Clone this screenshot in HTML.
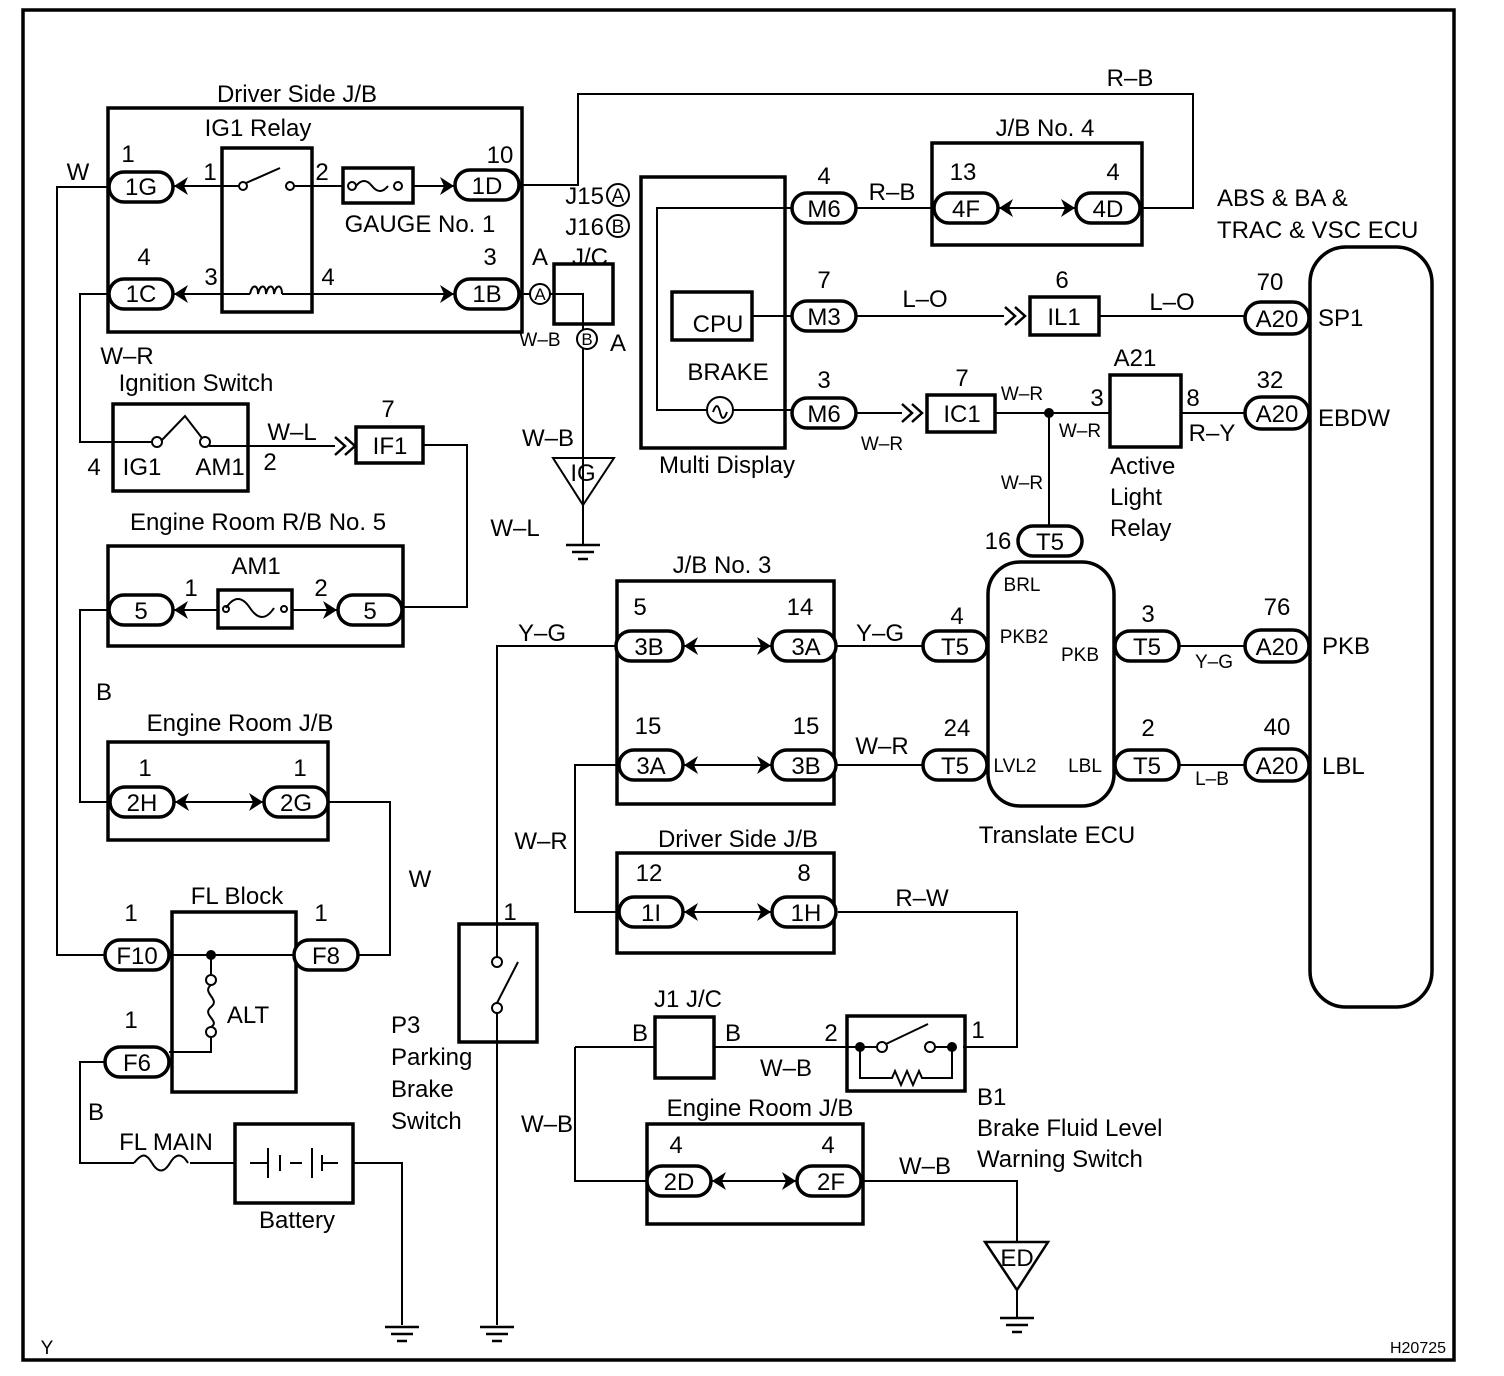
<!DOCTYPE html>
<html><head><meta charset="utf-8"><style>
html,body{margin:0;padding:0;background:#fff}
svg{display:block}
text{font-family:"Liberation Sans",Arial,sans-serif;fill:#000}
svg rect{stroke-width:3.5}
</style></head><body>
<svg width="1504" height="1376" viewBox="0 0 1504 1376" xmlns="http://www.w3.org/2000/svg">
<defs>
<path id="cr" d="M7,0 L-7,-9 L-3,0 L-7,9 Z" fill="#000"/>
<path id="cl" d="M-7,0 L7,-9 L3,0 L7,9 Z" fill="#000"/>
<g id="dbl" fill="none" stroke="#000" stroke-width="2.5"><path d="M-10,-9 L0,0 L-10,9 M0,-9 L10,0 L0,9"/></g>
<g id="gnd" stroke="#000" stroke-width="2.5"><line x1="-17" y1="0" x2="17" y2="0"/><line x1="-11" y1="7" x2="11" y2="7"/><line x1="-5" y1="14" x2="5" y2="14"/></g>
</defs>
<rect x="23" y="10" width="1431" height="1350" fill="none" stroke="#000" stroke-width="3"/>
<g fill="none" stroke="#000" stroke-width="2">
<rect x="108" y="108" width="414" height="224"/>
<rect x="222" y="148" width="90" height="164"/>
<rect x="343" y="168" width="70" height="35"/>
<path d="M356,186 q8,-10 16,0 q8,10 16,0" />
<circle cx="352" cy="186" r="4"/><circle cx="398" cy="186" r="4"/>
<circle cx="243" cy="186" r="4"/><circle cx="290" cy="186" r="4"/>
<line x1="246" y1="183" x2="280" y2="168"/>
<path d="M173,186 H239 M294,186 H343 M413,186 H455"/>
<path d="M173,294 H250 M282,294 H455"/>
<path d="M250,294 c2,-10 8,-10 8,0 c2,-10 8,-10 8,0 c2,-10 8,-10 8,0 c2,-10 8,-10 8,0"/>
<path d="M109,187 H57 V955 H106"/>
<path d="M109,294 H80 V442 H153"/>
<path d="M519,185 H578 V94 H1193 V208 H1140"/>
<path d="M519,294 H530 M550,294 H583 V330 M583,349 V510"/>
<circle cx="540" cy="294" r="10"/>
<circle cx="587" cy="339" r="10"/>
<rect x="554" y="264" width="59" height="60"/>
<path d="M553,458 H614 L583,505 Z"/>
<line x1="583" y1="505" x2="583" y2="545"/>
<rect x="113" y="404" width="135" height="87"/>
<circle cx="157" cy="442" r="5"/><circle cx="205" cy="442" r="5"/>
<path d="M161,441 L185,416 L202,438"/>
<path d="M209,446 H248 M248,446 H335"/>
<rect x="356" y="427" width="67" height="36"/>
<path d="M423,445 H467 V607 H402"/>
<rect x="108" y="546" width="295" height="100"/>
<rect x="218" y="590" width="74" height="38"/>
<path d="M226,608 c8,-12 16,-12 24,0 c8,12 16,12 24,0" />
<circle cx="226" cy="609" r="3"/><circle cx="284" cy="609" r="3"/>
<path d="M173,610 H218 M292,610 H338"/>
<path d="M109,610 H80 V802 H110"/>
<rect x="108" y="742" width="220" height="98"/>
<path d="M174,802 H264"/>
<path d="M328,802 H390 V955 H358"/>
<rect x="172" y="912" width="124" height="180"/>
<path d="M169,955 H294"/>
<path d="M211,955 V974 M211,1038 V1052 H169"/>
<circle cx="211" cy="980" r="5"/><circle cx="211" cy="1032" r="5"/>
<path d="M211,985 c-10,8 10,14 0,22 c-10,8 10,14 0,20"/>
<path d="M105,1062 H80 V1163 H134 M190,1163 H235"/>
<path d="M134,1163 c8,-10 12,-10 18,0 c6,10 12,10 18,0 c6,-10 12,-10 18,0"/>
<rect x="235" y="1124" width="118" height="79"/>
<path d="M250,1163 H268 M268,1148 V1178 M280,1155 V1171 M290,1163 H302 M312,1148 V1178 M322,1155 V1171 M322,1163 H338"/>
<path d="M353,1163 H402 V1325"/>
<rect x="459" y="924" width="78" height="118"/>
<circle cx="497" cy="962" r="5"/><circle cx="497" cy="1008" r="5"/>
<path d="M497,1003 L518,962"/>
<path d="M616,646 H497 V957 M497,1013 V1325"/>
<rect x="617" y="581" width="217" height="223"/>
<path d="M683,646 H772 M683,765 H772"/>
<path d="M619,765 H575 V912 H619"/>
<path d="M834,646 H923 M834,765 H923"/>
<rect x="617" y="853" width="217" height="100"/>
<path d="M683,912 H772"/>
<path d="M838,912 H1017 V1047 H963"/>
<rect x="655" y="1017" width="59" height="61"/>
<path d="M575,1047 H655 M714,1047 H860"/>
<path d="M575,1047 V1181 H647"/>
<rect x="847" y="1016" width="118" height="75"/>
<circle cx="882" cy="1047" r="5"/><circle cx="930" cy="1047" r="5"/>
<path d="M860,1047 H877 M935,1047 H952 M886,1044 L928,1024"/>
<path d="M860,1047 V1078 H892 l3,-7 l6,14 l6,-14 l6,14 l6,-14 l3,7 H952 V1047"/>
<rect x="647" y="1124" width="216" height="100"/>
<path d="M711,1181 H797"/>
<path d="M863,1181 H1017 V1242"/>
<path d="M985,1242 H1048 L1017,1290 Z" stroke-width="2.5"/>
<line x1="1017" y1="1290" x2="1017" y2="1318"/>
<rect x="641" y="177" width="144" height="271"/>
<rect x="672" y="292" width="80" height="48"/>
<path d="M792,208 H657 V410 H707 M733,410 H792"/>
<circle cx="720" cy="410" r="13"/>
<path d="M713,412 c3,-8 5,-8 7,0 c2,8 4,8 7,0"/>
<path d="M752,316 H792"/>
<path d="M856,208 H935"/>
<rect x="932" y="143" width="210" height="102"/>
<path d="M998,208 H1076"/>
<path d="M856,316 H1004 M1099,316 H1245"/>
<rect x="1030" y="297" width="69" height="38"/>
<path d="M856,413 H902 M995,413 H1110 M1181,413 H1245"/>
<rect x="927" y="395" width="68" height="37"/>
<rect x="1110" y="375" width="71" height="72"/>
<path d="M1049,413 V526"/>
<rect x="988" y="562" width="126" height="244" rx="32"/>
<path d="M1179,646 H1245 M1179,765 H1245"/>
<rect x="1310" y="247" width="122" height="760" rx="36"/>
</g>
<circle cx="211" cy="955" r="5" fill="#000"/>
<circle cx="1049" cy="413" r="5" fill="#000"/>
<circle cx="860" cy="1047" r="5" fill="#000"/>
<circle cx="952" cy="1047" r="5" fill="#000"/>
<use href="#gnd" x="583" y="545"/>
<use href="#gnd" x="402" y="1327"/>
<use href="#gnd" x="497" y="1327"/>
<use href="#gnd" x="1017" y="1318"/>
<g fill="#fff" stroke="#000">
<rect x="109" y="172" width="64" height="30" rx="15"/>
<rect x="109" y="279" width="64" height="30" rx="15"/>
<rect x="455" y="170" width="64" height="30" rx="15"/>
<rect x="455" y="279" width="64" height="30" rx="15"/>
<rect x="109" y="595" width="64" height="30" rx="15"/>
<rect x="338" y="595" width="64" height="30" rx="15"/>
<rect x="110" y="787" width="64" height="30" rx="15"/>
<rect x="264" y="787" width="64" height="30" rx="15"/>
<rect x="105" y="940" width="64" height="30" rx="15"/>
<rect x="294" y="940" width="64" height="30" rx="15"/>
<rect x="105" y="1047" width="64" height="30" rx="15"/>
<rect x="616" y="631" width="67" height="30" rx="15"/>
<rect x="772" y="631" width="64" height="30" rx="15"/>
<rect x="619" y="750" width="64" height="30" rx="15"/>
<rect x="772" y="750" width="64" height="30" rx="15"/>
<rect x="619" y="897" width="64" height="30" rx="15"/>
<rect x="772" y="897" width="64" height="30" rx="15"/>
<rect x="647" y="1166" width="64" height="30" rx="15"/>
<rect x="797" y="1166" width="64" height="30" rx="15"/>
<rect x="792" y="193" width="64" height="30" rx="15"/>
<rect x="792" y="301" width="64" height="30" rx="15"/>
<rect x="792" y="398" width="64" height="30" rx="15"/>
<rect x="934" y="193" width="64" height="30" rx="15"/>
<rect x="1076" y="193" width="64" height="30" rx="15"/>
<rect x="1245" y="302" width="64" height="32" rx="16"/>
<rect x="1245" y="397" width="64" height="32" rx="16"/>
<rect x="1245" y="630" width="64" height="32" rx="16"/>
<rect x="1245" y="749" width="64" height="32" rx="16"/>
<rect x="923" y="631" width="64" height="30" rx="15"/>
<rect x="923" y="750" width="64" height="30" rx="15"/>
<rect x="1115" y="631" width="64" height="30" rx="15"/>
<rect x="1115" y="750" width="64" height="30" rx="15"/>
<rect x="1018" y="526" width="64" height="30" rx="15"/>
</g>
<use href="#cl" x="181" y="186"/><use href="#cr" x="447" y="186"/>
<use href="#cl" x="181" y="294"/><use href="#cr" x="447" y="294"/>
<use href="#cl" x="181" y="610"/><use href="#cr" x="330" y="610"/>
<use href="#cl" x="182" y="802"/><use href="#cr" x="256" y="802"/>
<use href="#cl" x="691" y="646"/><use href="#cr" x="764" y="646"/>
<use href="#cl" x="691" y="765"/><use href="#cr" x="764" y="765"/>
<use href="#cl" x="691" y="912"/><use href="#cr" x="764" y="912"/>
<use href="#cl" x="719" y="1181"/><use href="#cr" x="789" y="1181"/>
<use href="#cl" x="1006" y="208"/><use href="#cr" x="1068" y="208"/>
<use href="#dbl" x="345" y="446"/>
<use href="#dbl" x="1015" y="316"/>
<use href="#dbl" x="912" y="413"/>
<g font-size="24" text-anchor="middle">
<text x="297" y="102">Driver Side J/B</text>
<text x="258" y="136">IG1 Relay</text>
<text x="141" y="195">1G</text><text x="141" y="302">1C</text>
<text x="487" y="194">1D</text><text x="487" y="302">1B</text>
<text x="128" y="162">1</text><text x="210" y="180">1</text><text x="322" y="180">2</text>
<text x="500" y="163">10</text><text x="144" y="265">4</text><text x="211" y="285">3</text>
<text x="328" y="285">4</text><text x="490" y="265">3</text>
<text x="78" y="180">W</text>
<text x="420" y="232">GAUGE No. 1</text>
<text x="1130" y="86">R–B</text>
<text x="604" y="204" text-anchor="end">J15</text><text x="604" y="235" text-anchor="end">J16</text>
<text x="590" y="265">J/C</text>
<text x="540" y="265">A</text><text x="618" y="351">A</text>
<text x="127" y="364">W–R</text>
<text x="196" y="391">Ignition Switch</text>
<text x="94" y="475">4</text><text x="142" y="475">IG1</text><text x="220" y="475">AM1</text>
<text x="270" y="470">2</text><text x="292" y="440">W–L</text>
<text x="390" y="454">IF1</text><text x="388" y="417">7</text>
<text x="548" y="446">W–B</text><text x="515" y="536">W–L</text>
<text x="258" y="530">Engine Room R/B No. 5</text>
<text x="256" y="574">AM1</text>
<text x="141" y="619">5</text><text x="370" y="619">5</text>
<text x="191" y="596">1</text><text x="321" y="596">2</text>
<text x="104" y="700">B</text>
<text x="240" y="731">Engine Room J/B</text>
<text x="145" y="776">1</text><text x="300" y="776">1</text>
<text x="142" y="811">2H</text><text x="296" y="811">2G</text>
<text x="420" y="887">W</text>
<text x="237" y="904">FL Block</text>
<text x="131" y="921">1</text><text x="321" y="921">1</text><text x="131" y="1028">1</text>
<text x="137" y="964">F10</text><text x="326" y="964">F8</text><text x="137" y="1071">F6</text>
<text x="248" y="1023">ALT</text>
<text x="96" y="1120">B</text><text x="166" y="1150">FL MAIN</text>
<text x="297" y="1228">Battery</text>
<text x="510" y="920">1</text>
<text x="542" y="641">Y–G</text>
<text x="722" y="573">J/B No. 3</text>
<text x="640" y="615">5</text><text x="800" y="615">14</text>
<text x="648" y="734">15</text><text x="806" y="734">15</text>
<text x="649" y="655">3B</text><text x="806" y="655">3A</text>
<text x="651" y="774">3A</text><text x="806" y="774">3B</text>
<text x="541" y="849">W–R</text>
<text x="738" y="847">Driver Side J/B</text>
<text x="649" y="881">12</text><text x="804" y="881">8</text>
<text x="651" y="921">1I</text><text x="806" y="921">1H</text>
<text x="922" y="906">R–W</text>
<text x="688" y="1007">J1 J/C</text>
<text x="640" y="1041">B</text><text x="733" y="1041">B</text>
<text x="786" y="1076">W–B</text><text x="831" y="1041">2</text><text x="978" y="1038">1</text>
<text x="547" y="1132">W–B</text>
<text x="760" y="1116">Engine Room J/B</text>
<text x="676" y="1153">4</text><text x="828" y="1153">4</text>
<text x="679" y="1190">2D</text><text x="831" y="1190">2F</text>
<text x="925" y="1174">W–B</text>
<text x="1017" y="1266">ED</text>
<text x="583" y="481">IG</text>
<text x="880" y="641">Y–G</text><text x="957" y="624">4</text>
<text x="882" y="754">W–R</text><text x="957" y="736">24</text>
<text x="955" y="655">T5</text><text x="955" y="774">T5</text>
<text x="1147" y="655">T5</text><text x="1147" y="774">T5</text>
<text x="1050" y="550">T5</text><text x="998" y="549">16</text>
<text x="1148" y="622">3</text><text x="1148" y="736">2</text>
<text x="1057" y="843">Translate ECU</text>
<text x="727" y="473">Multi Display</text>
<text x="718" y="332">CPU</text><text x="728" y="380">BRAKE</text>
<text x="824" y="184">4</text><text x="824" y="288">7</text><text x="824" y="388">3</text>
<text x="824" y="217">M6</text><text x="824" y="325">M3</text><text x="824" y="422">M6</text>
<text x="892" y="200">R–B</text>
<text x="1045" y="136">J/B No. 4</text>
<text x="963" y="180">13</text><text x="1113" y="180">4</text>
<text x="966" y="217">4F</text><text x="1108" y="217">4D</text>
<text x="925" y="307">L–O</text><text x="1062" y="288">6</text><text x="1064" y="325">IL1</text>
<text x="1172" y="310">L–O</text>
<text x="962" y="386">7</text><text x="962" y="422">IC1</text>
<text x="1097" y="406">3</text><text x="1193" y="406">8</text>
<text x="1135" y="366">A21</text><text x="1212" y="441">R–Y</text>
<text x="1270" y="290">70</text><text x="1270" y="388">32</text>
<text x="1277" y="615">76</text><text x="1277" y="735">40</text>
<text x="1277" y="327">A20</text><text x="1277" y="422">A20</text>
<text x="1277" y="655">A20</text><text x="1277" y="774">A20</text>
</g>
<g font-size="24">
<text x="1110" y="474">Active</text><text x="1110" y="505">Light</text><text x="1110" y="536">Relay</text>
<text x="391" y="1033">P3</text><text x="391" y="1065">Parking</text><text x="391" y="1097">Brake</text><text x="391" y="1129">Switch</text>
<text x="977" y="1105">B1</text><text x="977" y="1136">Brake Fluid Level</text><text x="977" y="1167">Warning Switch</text>
<text x="1217" y="206">ABS &amp; BA &amp;</text><text x="1217" y="238">TRAC &amp; VSC ECU</text>
<text x="1318" y="326">SP1</text><text x="1318" y="426">EBDW</text>
<text x="1322" y="654">PKB</text><text x="1322" y="774">LBL</text>
</g>
<g font-size="19" text-anchor="middle">
<text x="540" y="346">W–B</text>
<text x="882" y="450">W–R</text>
<text x="1022" y="400">W–R</text><text x="1080" y="437">W–R</text>
<text x="1022" y="489">W–R</text>
<text x="1022" y="591">BRL</text><text x="1024" y="643">PKB2</text><text x="1080" y="661">PKB</text>
<text x="1015" y="772">LVL2</text><text x="1085" y="772">LBL</text>
<text x="1214" y="668">Y–G</text><text x="1212" y="785">L–B</text>
<text x="47" y="1354">Y</text><text x="1418" y="1353" font-size="16">H20725</text>
</g>
<g fill="none" stroke="#000" stroke-width="2">
<circle cx="618" cy="195" r="11"/><circle cx="618" cy="226" r="11"/>
</g>
<g font-size="19" text-anchor="middle">
<text x="618" y="202">A</text><text x="618" y="233">B</text>
</g>
<g font-size="17" text-anchor="middle">
<text x="540" y="300">A</text><text x="587" y="345">B</text>
</g>
</svg>
</body></html>
